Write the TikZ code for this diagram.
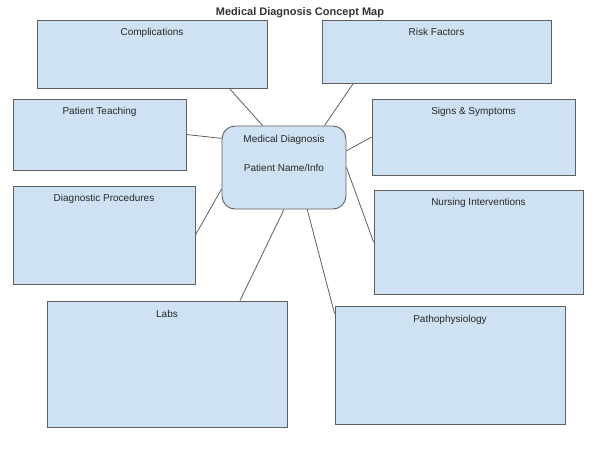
\documentclass[tikz,border=0pt]{standalone}
\usepackage{fontspec}
\setmainfont{Liberation Sans}
\usepackage{tikz}
\usetikzlibrary{calc}
\definecolor{boxfill}{HTML}{CFE2F3}
\definecolor{boxline}{HTML}{5F5F5F}
\tikzset{
  topic/.style={draw=boxline, fill=boxfill, line width=0.9pt, inner sep=0pt},
  toptext/.style={anchor=north, inner sep=0pt, yshift=-9pt, align=center,
    font=\fontsize{10}{12}\selectfont, text=black!85},
  link/.style={draw=boxline, line width=0.8pt}
}

\begin{document}
\begin{tikzpicture}[x=1pt,y=-1pt]
\useasboundingbox (0,0) rectangle (600,450);
\node[font=\bfseries\fontsize{11}{13}\selectfont, text=black!80] (title) at (300,13) {Medical Diagnosis Concept Map};
\node[topic, minimum width=230pt, minimum height=68pt, label={[toptext]north:Complications}] (compl) at (152,54) {};
\node[topic, minimum width=229pt, minimum height=63pt, label={[toptext]north:Risk Factors}] (risk) at (436.5,51.5) {};
\node[topic, minimum width=173pt, minimum height=71pt, label={[toptext]north:Patient Teaching}] (teach) at (99.5,134.5) {};
\node[topic, minimum width=203pt, minimum height=76pt, label={[toptext]north:Signs \& Symptoms}] (signs) at (473.5,137) {};
\node[topic, minimum width=182pt, minimum height=98pt, label={[toptext]north:Diagnostic Procedures}] (diag) at (104,235) {};
\node[topic, minimum width=209pt, minimum height=104pt, label={[toptext]north:Nursing Interventions}] (nurs) at (478.5,242) {};
\node[topic, minimum width=240pt, minimum height=126pt, label={[toptext]north:Labs}] (labs) at (167,364) {};
\node[topic, minimum width=230pt, minimum height=118pt, label={[toptext]north:Pathophysiology}] (patho) at (450,365) {};
\node[topic, rounded corners=13pt, minimum width=124pt, minimum height=83pt,
  label={[toptext, yshift=-1pt]north:{Medical Diagnosis\\[17pt]Patient Name/Info}}] (hub) at (284,167.5) {};
\draw[link] (compl.-24.4) -- (hub.117.9);
\draw[link] (risk.-159.3) -- (hub.46.8);
\draw[link] (teach.east) -- (hub.155.3);
\draw[link] (signs.west) -- (hub.15.8);
\draw[link] (diag.east) -- (hub.199.1);
\draw[link] (nurs.west) -- (hub.-0.5);
\draw[link] (labs.41.6) -- (hub.south);
\draw[link] (patho.156.9) -- (hub.-61);
\end{tikzpicture}
\end{document}
